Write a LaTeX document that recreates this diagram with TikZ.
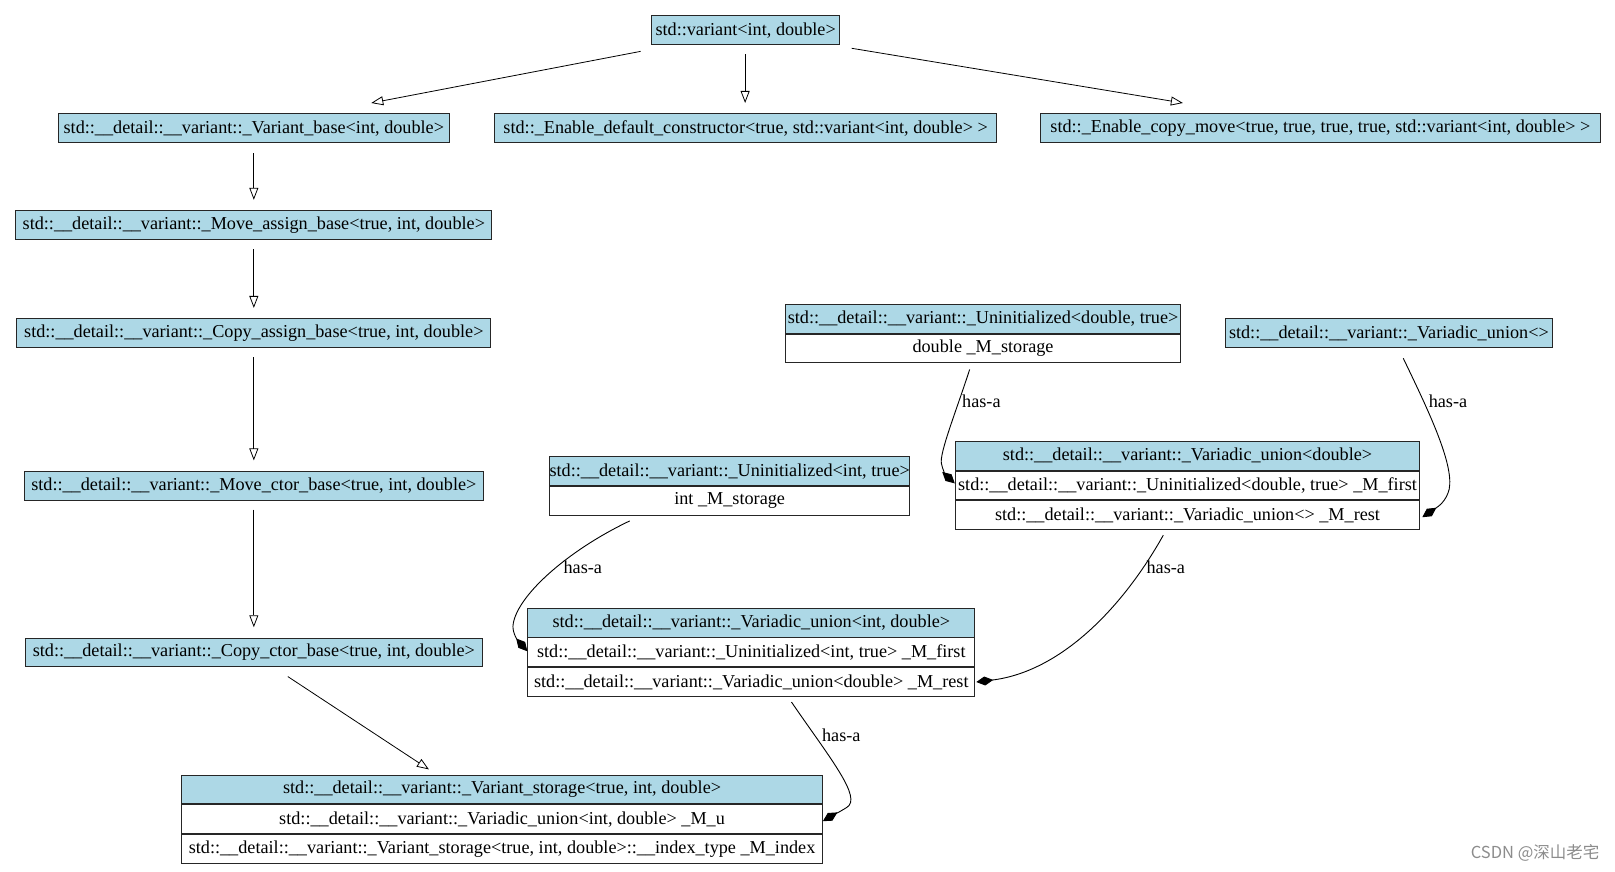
\documentclass[tikz,border=0pt]{standalone}
\usepackage{fontspec}
\setmainfont{Liberation Serif}
\newfontfamily\cjkfont{Noto Sans CJK SC}
\usetikzlibrary{arrows.meta,calc}
\definecolor{lb}{HTML}{ADD8E6}
\newcommand\boxfs{\fontsize{18.2}{21}\selectfont}
\begin{document}
\begin{tikzpicture}[x=1.03pt,y=-1.03pt,
  hdr/.style={draw=black!85, fill=lb, line width=0.9pt, inner sep=0pt,
    minimum height=28*1.03pt, anchor=north west, font=\boxfs},
  rowbox/.style={hdr, fill=white},
  bw/.style={minimum width=#1*1.03pt},
  inh/.style={draw=black, line width=0.8pt, -{Triangle[open, length=12pt, width=9pt]}},
  hasa/.style={draw=black, line width=0.9pt, -{Kite[length=17pt, width=9pt, inset=8.5pt]}},
  lbl/.style={font=\boxfs, inner sep=0pt, anchor=west},
]
\useasboundingbox (0,0) rectangle (1568,846);

% single boxes
\node[hdr, bw=183] (A) at (632,15) {std::variant<int, double>};
\node[hdr, bw=380] (B) at (56,110) {std::\_\_detail::\_\_variant::\_Variant\_base<int, double>};
\node[hdr, bw=487] (C) at (480,110) {std::\_Enable\_default\_constructor<true, std::variant<int, double> >};
\node[hdr, bw=543] (D) at (1010,110) {std::\_Enable\_copy\_move<true, true, true, true, std::variant<int, double> >};
\node[hdr, bw=462] (E) at (15,204) {std::\_\_detail::\_\_variant::\_Move\_assign\_base<true, int, double>};
\node[hdr, bw=460] (F) at (16,309) {std::\_\_detail::\_\_variant::\_Copy\_assign\_base<true, int, double>};
\node[hdr, bw=446] (G) at (23,457) {std::\_\_detail::\_\_variant::\_Move\_ctor\_base<true, int, double>};
\node[hdr, bw=444] (H) at (24,619) {std::\_\_detail::\_\_variant::\_Copy\_ctor\_base<true, int, double>};
\node[hdr, bw=318] (M) at (1189,309) {std::\_\_detail::\_\_variant::\_Variadic\_union<>};

% Variant_storage
\node[hdr, bw=622] (I0) at (176,752) {std::\_\_detail::\_\_variant::\_Variant\_storage<true, int, double>};
\node[rowbox, bw=622] (I1) at (I0.south west) {std::\_\_detail::\_\_variant::\_Variadic\_union<int, double> \_M\_u};
\node[rowbox, bw=622] (I2) at (I1.south west) {std::\_\_detail::\_\_variant::\_Variant\_storage<true, int, double>::\_\_index\_type \_M\_index};

% Uninitialized<int,true>
\node[hdr, bw=350] (J0) at (533,443) {std::\_\_detail::\_\_variant::\_Uninitialized<int, true>};
\node[rowbox, bw=350] (J1) at (J0.south west) {int \_M\_storage};

% Variadic_union<int,double>
\node[hdr, bw=434] (K0) at (512,590) {std::\_\_detail::\_\_variant::\_Variadic\_union<int, double>};
\node[rowbox, bw=434] (K1) at (K0.south west) {std::\_\_detail::\_\_variant::\_Uninitialized<int, true> \_M\_first};
\node[rowbox, bw=434] (K2) at (K1.south west) {std::\_\_detail::\_\_variant::\_Variadic\_union<double> \_M\_rest};

% Uninitialized<double,true>
\node[hdr, bw=383] (L0) at (762.5,295) {std::\_\_detail::\_\_variant::\_Uninitialized<double, true>};
\node[rowbox, bw=383] (L1) at (L0.south west) {double \_M\_storage};

% Variadic_union<double>
\node[hdr, bw=451] (N0) at (927,428) {std::\_\_detail::\_\_variant::\_Variadic\_union<double>};
\node[rowbox, bw=451] (N1) at (N0.south west) {std::\_\_detail::\_\_variant::\_Uninitialized<double, true> \_M\_first};
\node[rowbox, bw=451] (N2) at (N1.south west) {std::\_\_detail::\_\_variant::\_Variadic\_union<> \_M\_rest};

% inheritance edges
\draw[inh] ($(A.south west)+(-10,6)$) -- ($(B.north)+(114,-10)$);
\draw[inh] ($(A.south)+(-0.5,9)$) -- ($(C.north)+(-0.5,-10)$);
\draw[inh] ($(A.south east)+(11,3)$) -- ($(D.north)+(-133.5,-10)$);
\draw[inh] ($(B.south)+(0,10)$) -- ($(E.north)+(0,-10)$);
\draw[inh] ($(E.south)+(0,9)$) -- ($(F.north)+(0,-10)$);
\draw[inh] ($(F.south)+(0,9)$) -- ($(G.north)+(0,-10)$);
\draw[inh] ($(G.south)+(0,9)$) -- ($(H.north)+(0,-10)$);
\draw[inh] ($(H.south)+(33,9)$) -- ($(I0.north)+(-71,-5)$);

% has-a edges
\draw[hasa] ($(L1.south)+(-13,6)$) .. controls (928,400) and (912,440) .. (914,450)
  .. controls (915,456) and (919,462) .. ($(N1.west)+(0,-2)$);
\draw[hasa] ($(M.south)+(14,10)$) .. controls (1385,395) and (1412,450) .. (1407,475)
  .. controls (1404,487) and (1396,492) .. ($(N2.east)+(2,2)$);
\draw[hasa] ($(J1.south)+(-97,5)$) .. controls (550,535) and (500,580) .. (498,608)
  .. controls (498,616) and (503,622) .. ($(K1.west)+(0,-1)$);
\draw[hasa] ($(N2.south)+(-23.5,5)$) .. controls (1090,590) and (1030,652) .. ($(K2.east)+(1,0)$);
\draw[hasa] ($(K2.south)+(39,5)$) .. controls (805,735) and (838,775) .. (822,784)
  .. controls (814,789) and (806,793) .. ($(I1.east)+(0,2)$);

% labels
\node[lbl] (l1) at (934,390) {has-a};
\node[lbl] (l2) at (1387,390) {has-a};
\node[lbl] (l3) at (547,551) {has-a};
\node[lbl] (l4) at (1113,551) {has-a};
\node[lbl] (l5) at (798,714) {has-a};

% watermark
\node[anchor=east, inner sep=0pt, text=black!45, font=\cjkfont\fontsize{16.5}{18}\selectfont] (wm) at (1553,828) {CSDN @深山老宅};
\end{tikzpicture}
\end{document}
